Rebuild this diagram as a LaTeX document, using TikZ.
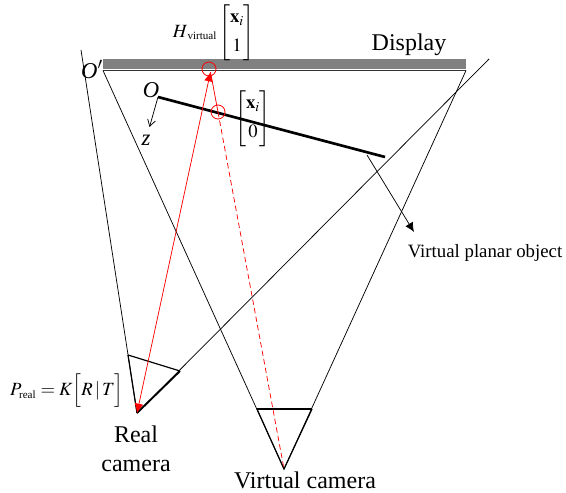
\documentclass[tikz,border=0pt]{standalone}
\usepackage{amsmath}
\usepackage{mathptmx}
\usepackage{fontspec}
\setmainfont{Liberation Serif}
\usetikzlibrary{positioning,arrows.meta}

\newcommand{\subtext}[1]{\mbox{\fontsize{8.3}{9}\selectfont #1}}

\begin{document}
\begin{tikzpicture}[
x=0.75pt, y=-0.75pt,
every node/.style={inner sep=0pt, align=center},
big/.style={font=\fontsize{18}{21.5}\selectfont},
formula/.style={font=\fontsize{14}{17}\selectfont},
ray/.style={red, line width=0.55pt},
thin line/.style={black, line width=0.55pt},
heavy/.style={black, line width=0.9pt},
spot/.style={circle, draw=red, line width=0.6pt, minimum size=10.5pt},
>={Latex[length=7pt,width=6.5pt]}
]
\useasboundingbox (0,0) rectangle (566,492);

% display
\node (disp) [fill=black!50, minimum width=272pt, minimum height=7.2pt, anchor=north west] at (103,59) {};
\coordinate (dl) at (103,70.5);
\coordinate (dr) at (466,70.5);
\draw[line width=0.7pt, black!80] (dl) -- (dr);
\node (displabel) [big] at (409,45) {Display};

% cameras
\coordinate (rcam) at (137,413);
\coordinate (vcam) at (284,469);
\coordinate (rleft) at (128,355);
\coordinate (rright) at (180,371);
\coordinate (rtopl) at (81,50);
\coordinate (rtopr) at (489,59);
\coordinate (vleft) at (257,409);
\coordinate (vright) at (312,409);

\draw[thin line] (dl) -- (vcam);
\draw[thin line] (dr) -- (vcam);
\draw[heavy] (vleft) -- (vcam) -- (vright);
\draw[heavy] (vleft) -- (vright);
\draw[thin line] (rtopl) -- (rcam);
\draw[thin line] (rtopr) -- (rcam);
\draw[heavy] (rleft) -- (rright);
\draw[heavy] (rleft) -- (rcam);
\draw[line width=1.4pt] (rright) -- (rcam);

% planar object
\coordinate (objl) at (158,97);
\coordinate (objr) at (385,157);
\coordinate (zend) at (149.5,127);
\coordinate (objm) at (367,155);
\coordinate (objend) at (414,232);
\draw[line width=2pt] (objl) -- (objr);
\draw[thin line, -{Straight Barb[length=5pt,width=6pt]}] (objl) -- (zend);
\draw[thin line, ->] (objm) -- (objend);

\node (oo) [font=\fontsize{17}{19}\selectfont\itshape] at (151,90) {O};
\node (oprime) [font=\fontsize{17}{19}\selectfont\itshape] at (92,69.5) {O$'$};
\node (zz) [font=\fontsize{17}{19}\selectfont\itshape] at (146,140) {z};
\node (objlabel) [font=\fontsize{14.1}{17}\selectfont] at (485,253) {Virtual planar object};

% rays
\node (hit) [spot] at (209,69) {};
\node (hitobj) [spot] at (218,112) {};
\coordinate (tipd) at (210.5,72);
\coordinate (objc) at (218,112);
\draw[ray, <->] (rcam) -- (tipd);
\draw[ray] (tipd) -- (objc);
\draw[ray, dash pattern=on 4pt off 2.5pt] (objc) -- (vcam);

% labels
\node (hmat) [formula, anchor=east] at (255,32.5) {$H_{\,\subtext{virtual}}\begin{bmatrix}\mathbf{x}_i\\[4.5pt]1\end{bmatrix}$};
\node (omat) [formula] at (253,118.5) {$\begin{bmatrix}\mathbf{x}_i\\[4.5pt]0\end{bmatrix}$};
\node (pmat) [formula, anchor=east] at (124,391) {$P_{\subtext{real}}\;{=}\;K\Bigl[R\,|\,T\Bigr]$};
\node (rlabel) [big] at (136,449) {Real\\camera};
\node (vlabel) [big] at (305,480) {Virtual camera};
\end{tikzpicture}
\end{document}
